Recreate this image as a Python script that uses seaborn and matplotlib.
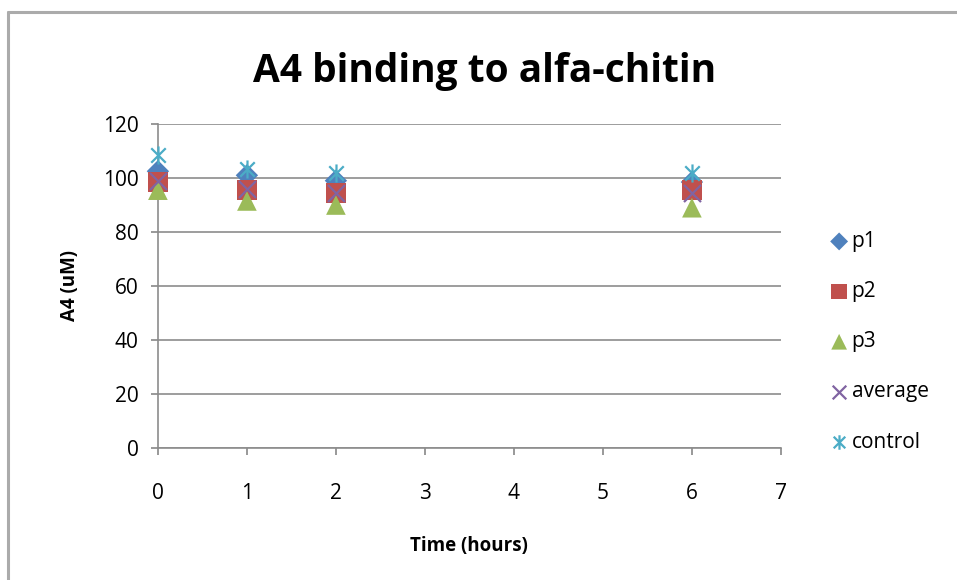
import matplotlib
matplotlib.use("Agg")
import matplotlib.pyplot as plt
from matplotlib.path import Path
from matplotlib.lines import Line2D
import seaborn as sns
import pandas as pd

# Measurements of A4 concentration over time
hours = [0, 1, 2, 6]
p1 = [102.5, 101.0, 99.0, 98.5]
p2 = [98.5, 95.5, 94.5, 95.5]
p3 = [95.5, 91.5, 90.0, 89.0]
average = [99.0, 96.0, 94.5, 94.5]
control = [108.5, 103.5, 102.0, 102.0]

series_names = ["p1", "p2", "p3", "average", "control"]
series_values = [p1, p2, p3, average, control]

rows = []
for name, vals in zip(series_names, series_values):
    for h, v in zip(hours, vals):
        rows.append({"Time": h, "A4": v, "series": name})
df = pd.DataFrame(rows)

sns.set_theme(style="white")
plt.rcParams["font.family"] = ["Open Sans", "DejaVu Sans"]
plt.rcParams["text.color"] = "black"
plt.rcParams["axes.labelcolor"] = "black"
plt.rcParams["xtick.color"] = "black"
plt.rcParams["ytick.color"] = "black"

# Excel-style star: an X crossed by a vertical bar
star = Path(
    [(-1, -1), (1, 1), (-1, 1), (1, -1), (0, -1.25), (0, 1.25)],
    [Path.MOVETO, Path.LINETO, Path.MOVETO, Path.LINETO, Path.MOVETO, Path.LINETO],
)

palette = {
    "p1": "#4F81BD",
    "p2": "#C0504D",
    "p3": "#9BBB59",
    "average": "#8064A2",
    "control": "#4BACC6",
}
markers = {"p1": "D", "p2": "s", "p3": "^", "average": "x", "control": star}
sizes = {"p1": 130, "p2": 200, "p3": 200, "average": 150, "control": 170}

fig = plt.figure(figsize=(9.57, 5.8), dpi=100)
ax = fig.add_axes([0.165, 0.2276, 0.651, 0.5586])

for name in series_names:
    sub = df[df["series"] == name]
    filled = name in ("p1", "p2", "p3")
    sns.scatterplot(
        data=sub, x="Time", y="A4", ax=ax,
        color=palette[name], marker=markers[name], s=sizes[name],
        linewidth=0 if filled else 1.6,
        edgecolor="none" if filled else palette[name],
        label=name, zorder=3, clip_on=False,
    )

ax.set_xlim(0, 7)
ax.set_ylim(0, 120)
ax.set_xticks(range(0, 8))
ax.set_yticks(range(0, 121, 20))
ax.grid(axis="y", color="#8C8C8C", linewidth=1.2)
ax.grid(axis="x", visible=False)
for side in ("top", "right"):
    ax.spines[side].set_visible(False)
for side in ("left", "bottom"):
    ax.spines[side].set_color("#8C8C8C")
    ax.spines[side].set_linewidth(1.2)
ax.tick_params(axis="both", which="both", direction="out", length=5,
               color="#8C8C8C", labelsize=15, bottom=True, left=True)
ax.tick_params(axis="x", pad=20)
ax.tick_params(axis="y", pad=9)

ax.set_xlabel("Time (hours)", fontsize=13.5, fontweight="bold", labelpad=23)
ax.set_ylabel("A4 (uM)", fontsize=13.5, fontweight="bold", labelpad=16)
ax.set_title("A4 binding to alfa-chitin", fontsize=28, fontweight="bold",
             pad=30, x=0.525)

leg = ax.legend(loc="center left", bbox_to_anchor=(1.06, 0.328), frameon=False,
                fontsize=15, handletextpad=0.0, labelspacing=1.4,
                borderaxespad=0.0, handlelength=1.2, markerscale=0.8)

# Chart area border (top and left edges)
fig.add_artist(Line2D([8 / 957, 8 / 957], [0, 1 - 12 / 580], transform=fig.transFigure,
                      color="#ABABAB", linewidth=2.2))
fig.add_artist(Line2D([8 / 957, 1], [1 - 12 / 580, 1 - 12 / 580], transform=fig.transFigure,
                      color="#ABABAB", linewidth=2.2))

fig.savefig("out.png", dpi=100)
